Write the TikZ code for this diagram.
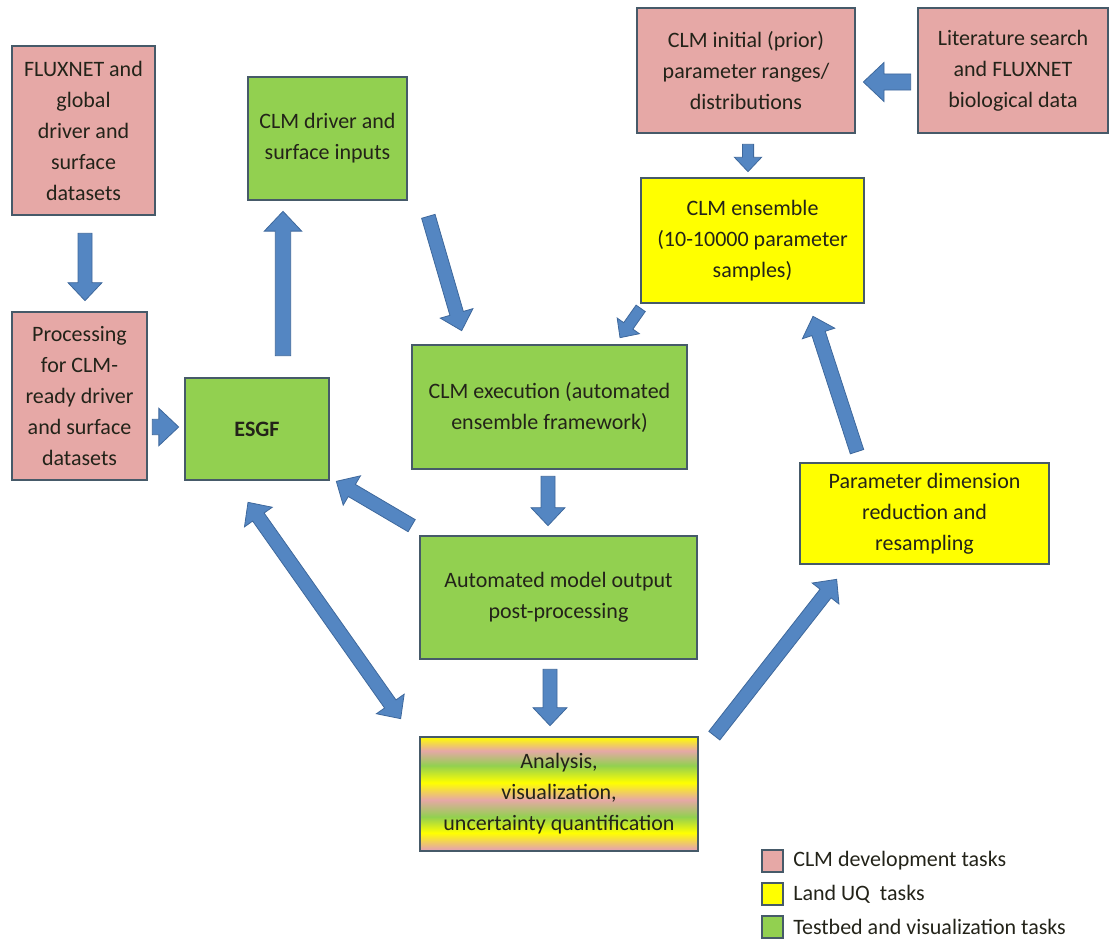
\documentclass[tikz,border=0pt]{standalone}
\usepackage{fontspec}
\setmainfont{Carlito}
\usetikzlibrary{calc,positioning}

\definecolor{devpink}{RGB}{230,168,166}
\definecolor{tbgreen}{RGB}{146,208,80}
\definecolor{uqyellow}{RGB}{255,255,0}
\definecolor{boxline}{RGB}{70,90,105}
\definecolor{arrowfill}{RGB}{84,134,194}
\definecolor{arrowline}{RGB}{62,104,156}
\definecolor{textcol}{RGB}{35,35,25}

\pgfdeclareverticalshading{anastripes}{100bp}{%
  color(0bp)=(devpink); color(26bp)=(devpink); color(33bp)=(uqyellow);
  color(40bp)=(tbgreen); color(47.5bp)=(devpink); color(55bp)=(uqyellow);
  color(62.5bp)=(tbgreen); color(69bp)=(devpink); color(75bp)=(uqyellow);
  color(100bp)=(uqyellow)}

% fat arrow from tail #2 to tip #3, #1 = size factor
\newcommand{\blockarrow}[3][1]{%
  \pgfmathsetlengthmacro{\bashaft}{#1*5.25pt}%
  \pgfmathsetlengthmacro{\bahead}{#1*12.75pt}%
  \pgfmathsetlengthmacro{\balen}{#1*13.5pt}%
  \coordinate (ba-s) at (#2);
  \coordinate (ba-t) at (#3);
  \coordinate (ba-b) at ($(ba-t)!\balen!(ba-s)$);
  \filldraw[blockarrow] ($(ba-s)!\bashaft!90:(ba-t)$) -- ($(ba-b)!\bashaft!90:(ba-t)$)
    -- ($(ba-b)!\bahead!90:(ba-t)$) -- (ba-t) -- ($(ba-b)!\bahead!-90:(ba-t)$)
    -- ($(ba-b)!\bashaft!-90:(ba-t)$) -- ($(ba-s)!\bashaft!-90:(ba-t)$) -- cycle;
}
% fat arrow with a tip at both ends
\newcommand{\dblblockarrow}[3][1]{%
  \pgfmathsetlengthmacro{\bashaft}{#1*5.25pt}%
  \pgfmathsetlengthmacro{\bahead}{#1*12.75pt}%
  \pgfmathsetlengthmacro{\balen}{#1*13.5pt}%
  \coordinate (ba-s) at (#2);
  \coordinate (ba-t) at (#3);
  \coordinate (ba-b) at ($(ba-s)!\balen!(ba-t)$);
  \coordinate (ba-c) at ($(ba-t)!\balen!(ba-s)$);
  \filldraw[blockarrow] (ba-s) -- ($(ba-b)!\bahead!90:(ba-t)$) -- ($(ba-b)!\bashaft!90:(ba-t)$)
    -- ($(ba-c)!\bashaft!-90:(ba-s)$) -- ($(ba-c)!\bahead!-90:(ba-s)$) -- (ba-t)
    -- ($(ba-c)!\bahead!90:(ba-s)$) -- ($(ba-c)!\bashaft!90:(ba-s)$)
    -- ($(ba-b)!\bashaft!-90:(ba-t)$) -- ($(ba-b)!\bahead!-90:(ba-t)$) -- cycle;
}

\begin{document}
\begin{tikzpicture}[x=0.75pt,y=-0.75pt,
  task/.style={draw=boxline, line width=2pt, align=center, inner sep=0pt,
    text=textcol, font=\fontsize{16.5}{23.25}\selectfont},
  devtask/.style={task, fill=devpink},
  uqtask/.style={task, fill=uqyellow},
  tbtask/.style={task, fill=tbgreen},
  blockarrow/.style={fill=arrowfill, draw=arrowline, line width=0.6pt, line join=miter},
  legsq/.style={draw=boxline, line width=1.5pt, minimum width=15.75pt,
    minimum height=16.5pt, inner sep=0pt},
  legtext/.style={inner sep=0pt, text=textcol, font=\fontsize{16.5}{23.25}\selectfont}]
\useasboundingbox (0,0) rectangle (1111,941);

%Shape: Rectangle - CLM development tasks
\node[devtask, minimum width=107.25pt, minimum height=126.75pt] (flux) at (83.5,130.5)
  {FLUXNET and\\global\\driver and\\surface\\datasets};
\node[devtask, minimum width=101.25pt, minimum height=126pt] (proc) at (79.5,396)
  {Processing\\for CLM-\\ready driver\\and surface\\datasets};
\node[devtask, minimum width=163.5pt, minimum height=93.75pt] (init) at (746,70.5)
  {CLM initial (prior)\\parameter ranges/\\distributions};
\node[devtask, minimum width=142.5pt, minimum height=93.75pt] (lit) at (1013,70.5)
  {Literature search\\and FLUXNET\\biological data};

%Shape: Rectangle - testbed tasks
\node[tbtask, minimum width=119.25pt, minimum height=92.25pt] (drv) at (327.5,138.5)
  {CLM driver and\\surface inputs};
\node[tbtask, minimum width=108pt, minimum height=76.5pt] (esgf) at (257,429)
  {\textbf{ESGF}};
\node[tbtask, minimum width=206.25pt, minimum height=93pt] (exec) at (549.5,407)
  {CLM execution (automated\\ensemble framework)};
\node[tbtask, minimum width=207.75pt, minimum height=92.25pt] (post) at (558.5,597.5)
  {Automated model output\\post-processing};

%Shape: Rectangle - Land UQ tasks
\node[uqtask, minimum width=167.25pt, minimum height=93.75pt] (ens) at (752.5,240.5)
  {CLM ensemble\\(10-10000 parameter\\samples)};
\node[uqtask, minimum width=186.75pt, minimum height=75.75pt] (red) at (924.5,513.5)
  {Parameter dimension\\reduction and\\resampling};

%Shape: Rectangle - shared
\node[task, shade, shading=anastripes, minimum width=208.5pt, minimum height=85.5pt] (ana) at (559,794)
  {Analysis,\\visualization,\\uncertainty quantification};

%Block Arrows
\blockarrow{$(flux.south)+(1.5,17)$}{$(proc.north)+(5.5,-10)$}
\blockarrow[1.1]{$(proc.east)+(4,31)$}{$(esgf.west)+(-5,-2)$}
\blockarrow[1.1]{$(esgf.north)+(26,-21)$}{$(drv.south)+(-44.5,10)$}
\blockarrow{$(drv.south east)+(20,15)$}{$(exec.north west)+(51,-13)$}
\blockarrow[1.15]{$(lit.west)+(-6,11.5)$}{$(init.east)+(7,11.5)$}
\blockarrow[0.8]{$(init.south)+(2,10)$}{$(ens.north)+(-4.5,-5)$}
\blockarrow[0.8]{$(ens.south west)+(1,4)$}{$(exec.north)+(70.5,-6)$}
\blockarrow{$(exec.south)+(-1.5,6)$}{$(post.north)+(-10.5,-9)$}
\blockarrow{$(post.north west)+(-7,-9)$}{$(esgf.south east)+(6,0)$}
\blockarrow{$(post.south)+(-8.5,9)$}{$(ana.north)+(-9,-10)$}
\blockarrow{$(ana.north east)+(15,0)$}{$(red.south west)+(38,14)$}
\blockarrow{$(red.north)+(-67.5,-10)$}{$(ens.south)+(60.5,12)$}
\dblblockarrow{$(esgf.south)+(-9,21)$}{$(ana.north west)+(-18,-17)$}

%Legend
\node[legsq, fill=devpink] (leg1) at (772.5,861) {};
\node[legsq, fill=uqyellow, below=6.75pt of leg1] (leg2) {};
\node[legsq, fill=tbgreen, below=6.75pt of leg2] (leg3) {};
\node[legtext, right=6.75pt of leg1] (legt1) {CLM development tasks};
\node[legtext, right=6.75pt of leg2] (legt2) {Land UQ~ tasks};
\node[legtext, right=6.75pt of leg3] (legt3) {Testbed and visualization tasks};

\end{tikzpicture}
\end{document}
